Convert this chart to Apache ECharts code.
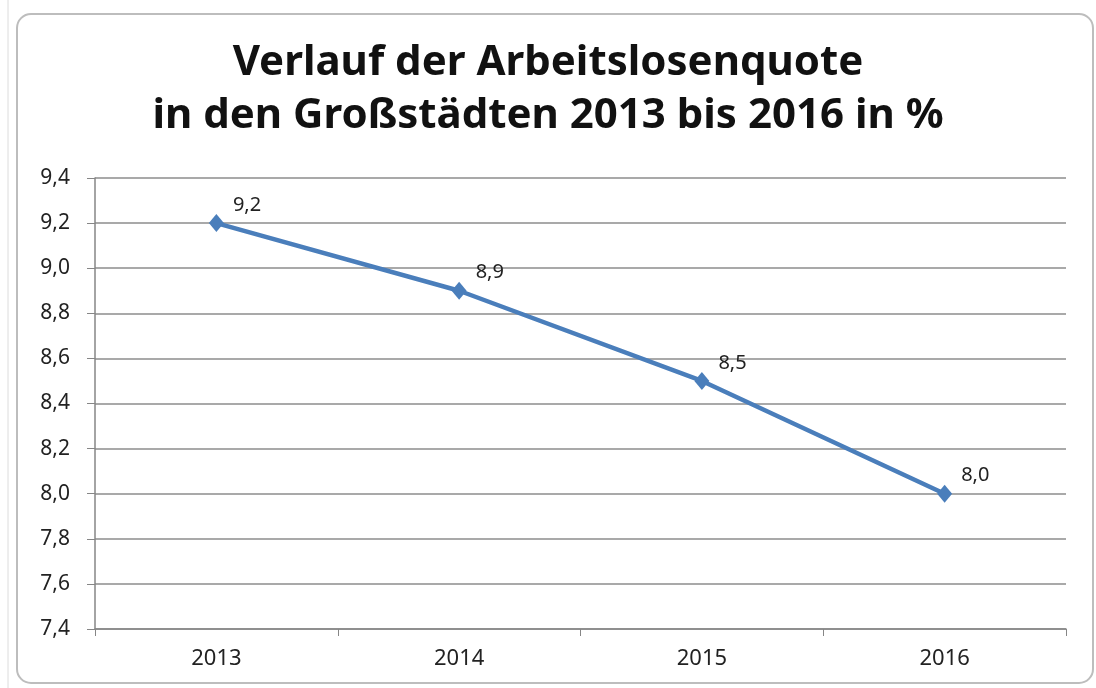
<!DOCTYPE html>
<html>
<head>
<meta charset="utf-8">
<script src="https://cdn.jsdelivr.net/npm/echarts@6/dist/echarts.min.js"></script>
<style>
  html, body { margin: 0; padding: 0; background: #fff; }
  #container { width: 1096px; height: 688px; }
</style>
</head>
<body>
<div id="container"></div>
<script>
// data
var years = ['2013', '2014', '2015', '2016'];
var quote = [9.2, 8.9, 8.5, 8.0];
var titleLines = ['Verlauf der Arbeitslosenquote', 'in den Großstädten 2013 bis 2016 in %'];

var dom = document.getElementById('container');
var myChart = echarts.init(dom);

var fmt = function (v) { return v.toFixed(1).replace('.', ','); };

var option = {
    backgroundColor: '#FFFFFF',
    animation: false,
    title: {
        text: titleLines.join('\n'),
        left: 'center',
        top: 32,
        textStyle: {
            fontFamily: 'Noto Sans',
            fontWeight: 'bold',
            fontSize: 42,
            lineHeight: 53,
            color: '#111'
        }
    },
    graphic: [
        // spreadsheet grid behind the chart object
        {
            type: 'line',
            shape: { x1: 8, y1: 0, x2: 8, y2: 688 },
            style: { stroke: '#dcdcdc', lineWidth: 1 },
            z: -2
        },
        {
            type: 'rect',
            shape: { x: 17, y: 14, width: 1076, height: 669, r: 14 },
            style: { fill: 'none', stroke: '#bdbdbd', lineWidth: 2 },
            z: -1
        }
    ],
    grid: { left: 95, right: 30, top: 178, bottom: 59 },
    xAxis: {
        type: 'category',
        boundaryGap: true,
        data: years,
        axisLine: { lineStyle: { color: '#868686', width: 1.5 } },
        axisTick: { show: true, length: 7, inside: false, lineStyle: { color: '#868686' } },
        axisLabel: { fontFamily: 'Noto Sans', fontSize: 22, color: '#222', margin: 19 }
    },
    yAxis: {
        type: 'value',
        min: 7.4,
        max: 9.4,
        interval: 0.2,
        axisLine: { show: true, lineStyle: { color: '#868686', width: 1.5 } },
        axisTick: { show: true, length: 8, lineStyle: { color: '#868686' } },
        splitLine: { lineStyle: { color: '#8c8c8c', width: 1.5 } },
        axisLabel: { fontFamily: 'Noto Sans', fontSize: 21, color: '#222', margin: 25, formatter: fmt }
    },
    series: [
        {
            name: 'Arbeitslosenquote',
            type: 'line',
            data: quote,
            symbol: 'diamond',
            symbolSize: [15, 18],
            lineStyle: { color: '#4a7ebb', width: 4.5 },
            itemStyle: { color: '#4a7ebb' },
            label: {
                show: true,
                position: 'right',
                distance: 4,
                offset: [5, -18],
                fontFamily: 'Noto Sans',
                fontSize: 20,
                color: '#222',
                formatter: function (p) { return fmt(p.value); }
            }
        }
    ]
};

myChart.setOption(option);
window.onresize = function () {
    myChart.resize();
};
</script>
</body>
</html>
